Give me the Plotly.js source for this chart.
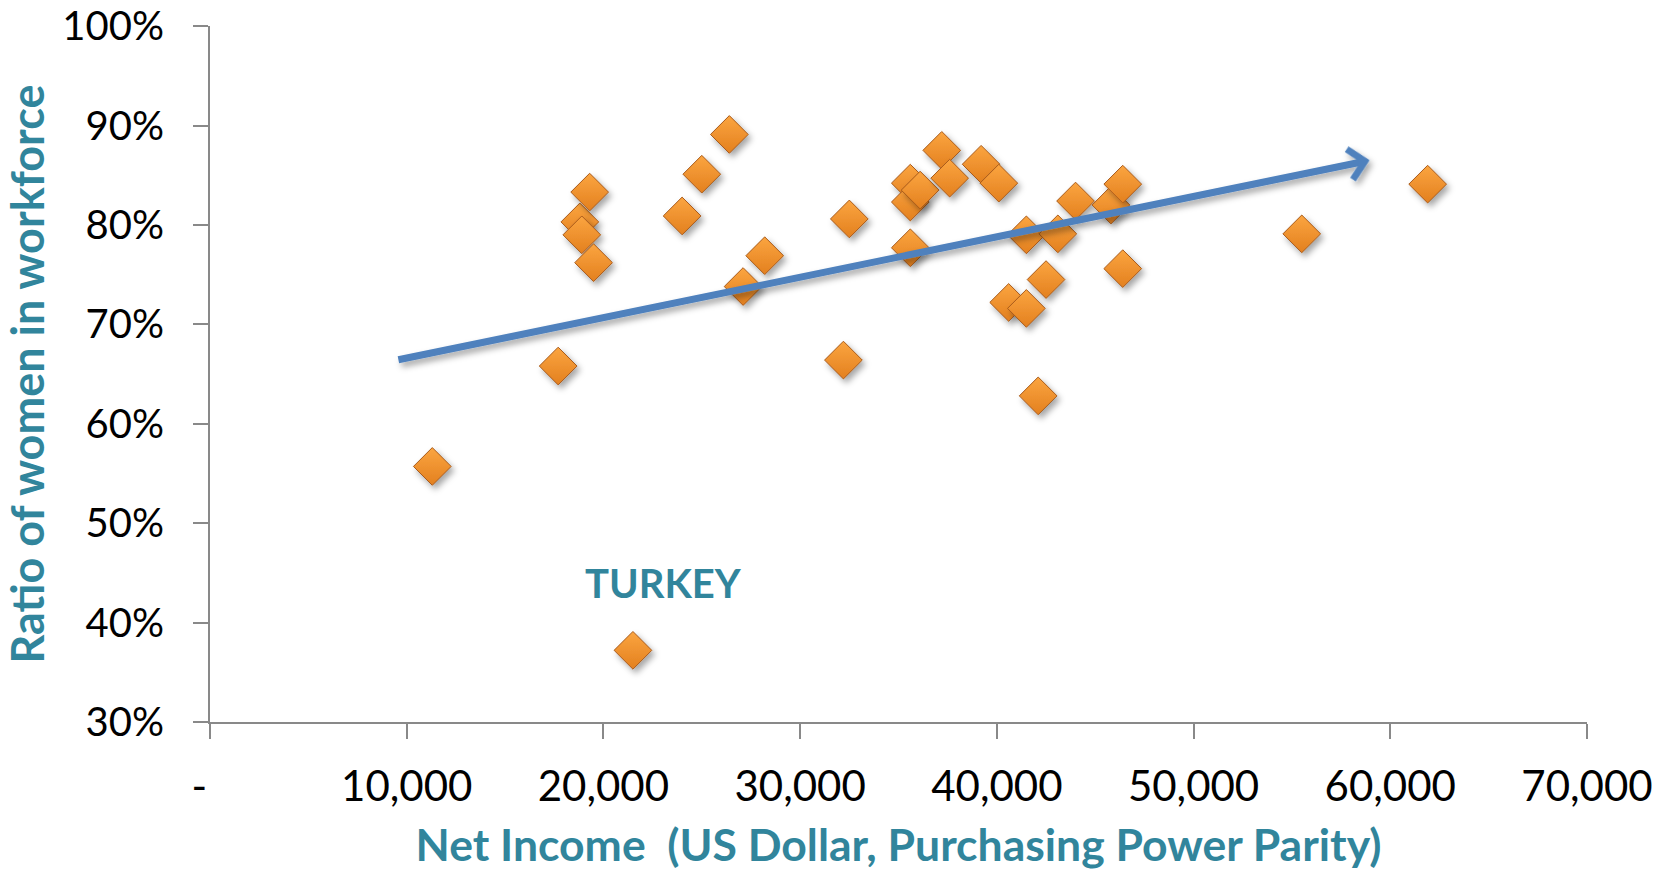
<!DOCTYPE html>
<html>
<head>
<meta charset="utf-8">
<script src="https://cdn.plot.ly/plotly-3.0.1.min.js"></script>
<style>
  html, body { margin: 0; padding: 0; background: #ffffff; }
  #chart { width: 1657px; height: 870px; }
</style>
</head>
<body>
<div id="chart"></div>
<script>
// Net income (US$, PPP) per country
const netIncome = [
  11300, 17700, 18800, 18900, 19300, 19500, 21500, 24000, 25000, 26400,
  27100, 28200, 32200, 32500, 35600, 35600, 35600, 36100, 37200, 37600,
  39200, 40100, 40600, 41500, 41500, 42100, 42500, 43100, 44000, 45800,
  46400, 46400, 55500, 61900
];
// Ratio of women in workforce
const womenRatio = [
  0.557, 0.658, 0.803, 0.790, 0.833, 0.762, 0.372, 0.809, 0.851, 0.891,
  0.738, 0.769, 0.664, 0.806, 0.842, 0.823, 0.777, 0.835, 0.875, 0.847,
  0.861, 0.842, 0.722, 0.716, 0.790, 0.628, 0.745, 0.791, 0.824, 0.820,
  0.841, 0.756, 0.791, 0.841
];
// Highlighted country
const labelName = "TURKEY";
const labelIndex = 6;

// Trend arrow end points
const trendX = [9500, 58950];
const trendY = [0.664, 0.865];

// Axis ticks
const xTickVals = [0, 10000, 20000, 30000, 40000, 50000, 60000, 70000];
const xTickText = ["-\u00a0\u00a0", "10,000", "20,000", "30,000", "40,000", "50,000", "60,000", "70,000"];
const yTickVals = [0.3, 0.4, 0.5, 0.6, 0.7, 0.8, 0.9, 1.0];
const yTickText = ["30%", "40%", "50%", "60%", "70%", "80%", "90%", "100%"];

const teal = "#31859C";
const axisGray = "#898989";

const trace = {
  type: "scatter",
  mode: "markers",
  x: netIncome,
  y: womenRatio,
  marker: {
    symbol: "diamond",
    size: 29,
    color: "#FBA540",
    gradient: { type: "vertical", color: "#E3801F" },
    line: { color: "#A85A1A", width: 1 }
  },
  hoverinfo: "x+y",
  showlegend: false
};

const layout = {
  width: 1657,
  height: 870,
  autosize: false,
  paper_bgcolor: "#ffffff",
  plot_bgcolor: "#ffffff",
  margin: { l: 210, r: 70, t: 26, b: 148 },
  font: { family: "Lato, 'Open Sans', sans-serif", color: "#000000" },
  showlegend: false,
  xaxis: {
    range: [0, 70000],
    tickmode: "array",
    tickvals: xTickVals,
    ticktext: xTickText,
    ticks: "outside",
    ticklen: 15,
    tickwidth: 2,
    tickcolor: axisGray,
    showline: true,
    linecolor: axisGray,
    linewidth: 2,
    showgrid: false,
    zeroline: false,
    ticklabelstandoff: 12,
    ticklabeloverflow: "allow",
    tickfont: { family: "Lato, sans-serif", size: 42, color: "#000000" },
    title: {
      text: "Net Income\u00a0 (US Dollar, Purchasing Power Parity)",
      font: { family: "Lato, sans-serif", size: 44.5, color: teal, weight: "bold" },
      standoff: 25
    }
  },
  yaxis: {
    range: [0.2999, 1.0001],
    tickmode: "array",
    tickvals: yTickVals,
    ticktext: yTickText,
    ticks: "outside",
    ticklen: 15,
    tickwidth: 2,
    tickcolor: axisGray,
    showline: true,
    linecolor: axisGray,
    linewidth: 2,
    showgrid: false,
    zeroline: false,
    ticklabelstandoff: 21,
    ticklabeloverflow: "allow",
    tickfont: { family: "Lato, sans-serif", size: 40, color: "#000000" },
    title: {
      text: "Ratio of women in workforce",
      font: { family: "Lato, sans-serif", size: 45, color: teal, weight: "bold" },
      standoff: 33
    }
  },
  annotations: [
    {
      x: trendX[1], y: trendY[1],
      ax: trendX[0], ay: trendY[0],
      xref: "x", yref: "y", axref: "x", ayref: "y",
      text: "",
      showarrow: true,
      arrowhead: 4,
      arrowsize: 0.85,
      arrowwidth: 7,
      arrowcolor: "#4F81BD",
      standoff: 0
    },
    {
      x: netIncome[labelIndex], y: womenRatio[labelIndex],
      xref: "x", yref: "y",
      text: "<b>" + labelName + "</b>",
      showarrow: false,
      xshift: 31,
      yshift: 67,
      font: { family: "Lato, sans-serif", size: 40, color: teal }
    }
  ]
};

Plotly.newPlot("chart", [trace], layout, { displayModeBar: false, staticPlot: true }).then(function (gd) {
  try {
    const svg = gd.querySelector("svg.main-svg");
    const ns = "http://www.w3.org/2000/svg";
    let defs = svg.querySelector("defs");
    if (!defs) { defs = document.createElementNS(ns, "defs"); svg.insertBefore(defs, svg.firstChild); }
    const f = document.createElementNS(ns, "filter");
    f.setAttribute("id", "softShadow");
    f.setAttribute("x", "-50%"); f.setAttribute("y", "-50%");
    f.setAttribute("width", "200%"); f.setAttribute("height", "200%");
    const ds = document.createElementNS(ns, "feDropShadow");
    ds.setAttribute("dx", "3"); ds.setAttribute("dy", "4");
    ds.setAttribute("stdDeviation", "3");
    ds.setAttribute("flood-color", "#000000");
    ds.setAttribute("flood-opacity", "0.35");
    f.appendChild(ds);
    defs.appendChild(f);
    gd.querySelectorAll(".scatterlayer .trace .points path").forEach(function (p) {
      p.setAttribute("filter", "url(#softShadow)");
    });
    gd.querySelectorAll(".annotation-arrow-g").forEach(function (g) {
      g.setAttribute("filter", "url(#softShadow)");
    });
  } catch (e) { }
});
</script>
</body>
</html>
